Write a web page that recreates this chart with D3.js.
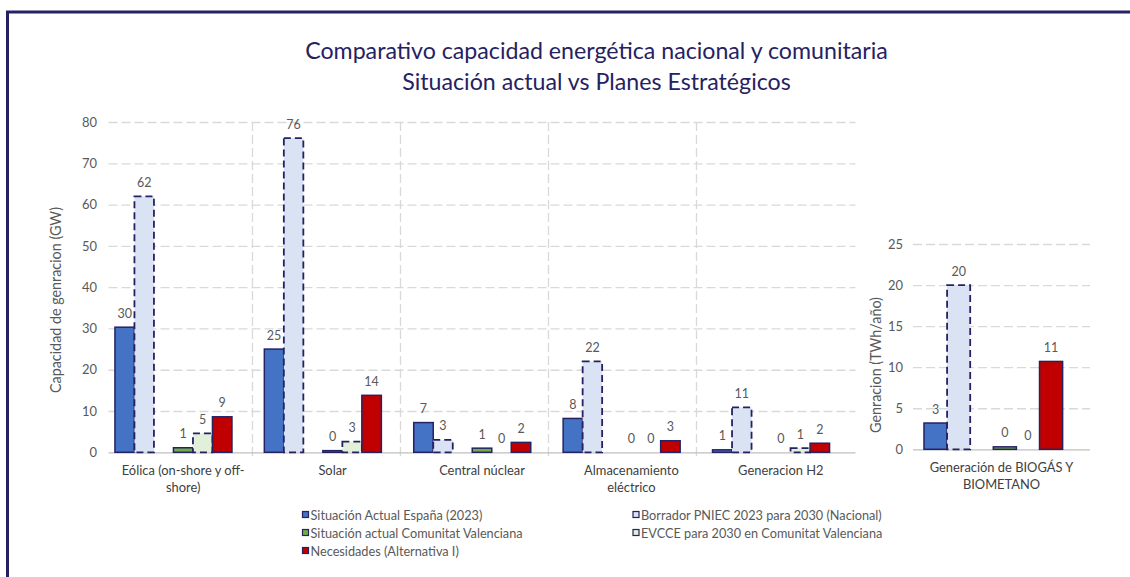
<!DOCTYPE html>
<html>
<head>
<meta charset="utf-8">
<script src="https://cdn.jsdelivr.net/npm/d3@7"></script>
<style>
html,body{margin:0;padding:0;background:#fff;}
svg{display:block;}
</style>
</head>
<body>
<svg id="chart" width="1130" height="577"></svg>
<script>
// ---------------- DATA ----------------
const titleLines = ["Comparativo capacidad energética nacional y comunitaria", "Situación actual vs Planes Estratégicos"];
const categories = ["Eólica (on-shore y off-shore)", "Solar", "Central núclear", "Almacenamiento eléctrico", "Generacion H2"];
const categoryLines = [["Eólica (on-shore y off-", "shore)"], ["Solar"], ["Central núclear"], ["Almacenamiento", "eléctrico"], ["Generacion H2"]];
const espana2023 = [30.3, 25.0, 7.2, 8.2, 0.6];
const pniec2030 = [62.0, 76.1, 3.0, 22.0, 10.9];
const cv2023 = [1.1, 0.4, 1.0, 0.0, 0.0];
const evcce2030 = [4.6, 2.6, 0.0, 0.0, 1.0];
const necesidades = [8.6, 13.8, 2.4, 2.8, 2.2];
const yTicksLeft = [0, 10, 20, 30, 40, 50, 60, 70, 80];

const bioCategories = ["Generación de BIOGÁS Y BIOMETANO"];
const bioCategoryLines = [["Generación de BIOGÁS Y", "BIOMETANO"]];
const bioEspana2023 = [3.2];
const bioPniec2030 = [20.0];
const bioCv2023 = [0.3];
const bioEvcce2030 = [0.0];
const bioNecesidades = [10.7];
const yTicksRight = [0, 5, 10, 15, 20, 25];

const seriesNames = ["Situación Actual España (2023)", "Borrador PNIEC 2023 para 2030 (Nacional)", "Situación actual Comunitat Valenciana", "EVCCE para 2030 en Comunitat Valenciana", "Necesidades (Alternativa I)"];
const slotKeys = ["s0", "s1", "gapA", "s2", "s3", "s4", "gapB"];
const seriesSlots = ["s0", "s1", "s2", "s3", "s4"];
const seriesFills = ["#4472C4", "#DAE3F3", "#70AD47", "#E2F0D9", "#C00000"];
const seriesDashed = [false, true, false, true, false];
const leftTitle = "Capacidad de genracion (GW)";
const rightTitle = "Genracion (TWh/año)";

// ---------------- DRAW ----------------
const svg = d3.select("#chart");
const FONT = "Lato, 'Open Sans', 'Noto Sans', sans-serif";
const NAVY = "#262262";
const GRID = "#d9d9d9";
const TXT = "#595959";

function fitSize(str, target) {
  const t = svg.append("text").attr("font-family", FONT).attr("font-size", 100).text(str);
  const w = t.node().getComputedTextLength();
  t.remove();
  return 100 * target / w;
}
const titleSize = fitSize(titleLines[0], 583);
const legendSize = fitSize(seriesNames[0], 172);
const xLabSize = fitSize(categoryLines[0][0], 123);
const axTitleSize = fitSize(rightTitle, 136);
const tickSize = fitSize("80", 15);
const dataSize = fitSize("62", 14.5);

svg.append("rect").attr("width", 1130).attr("height", 577).attr("fill", "#fff");
// outer border
svg.append("rect").attr("x", 7.5).attr("y", 12).attr("width", 1300).attr("height", 800)
  .attr("fill", "none").attr("stroke", NAVY).attr("stroke-width", 3);

// title
svg.append("g").selectAll("text").data(titleLines).join("text")
  .attr("x", 596.5).attr("y", (d, i) => 59 + i * 31)
  .attr("text-anchor", "middle").attr("font-family", FONT).attr("font-size", titleSize)
  .attr("fill", NAVY).text(d => d);

function buildSeries(a, b, c, d, e) {
  const vals = [a, b, c, d, e];
  return vals.map((v, si) => ({ si, vals: v }));
}

function drawPanel(opts) {
  const { cats, lines, series, y, x, ticks, gridX0, gridX1, align, tickPad } = opts;
  const slot = d3.scaleBand().domain(slotKeys).range([0, x.bandwidth()]).paddingInner(0).paddingOuter(0.33).align(align);

  // grid + ticks
  const ax = svg.append("g").attr("transform", `translate(${gridX0},0)`)
    .call(d3.axisLeft(y).tickValues(ticks).tickSize(-(gridX1 - gridX0)).tickPadding(tickPad));
  ax.select(".domain").remove();
  ax.selectAll(".tick line")
    .attr("stroke", d => d === 0 ? "#bfbfbf" : GRID)
    .attr("stroke-width", 1.3)
    .attr("stroke-dasharray", d => d === 0 ? null : "9,4");
  ax.selectAll(".tick text").attr("font-family", FONT).attr("font-size", tickSize).attr("fill", TXT);

  // bars
  series.forEach(s => {
    const g = svg.append("g");
    const data = cats.map((c, ci) => ({ c, v: s.vals[ci] }));
    g.selectAll("rect").data(data).join("rect")
      .attr("x", d => x(d.c) + slot(seriesSlots[s.si]))
      .attr("width", slot.bandwidth())
      .attr("y", d => y(d.v))
      .attr("height", d => y(0) - y(d.v))
      .attr("fill", seriesFills[s.si])
      .attr("stroke", d => d.v > 0 ? NAVY : "none")
      .attr("stroke-width", seriesDashed[s.si] ? 1.8 : 1.5)
      .attr("stroke-dasharray", seriesDashed[s.si] ? "7,4" : null);
    g.selectAll("text").data(data).join("text")
      .attr("x", d => x(d.c) + slot(seriesSlots[s.si]) + slot.bandwidth() / 2)
      .attr("y", d => y(d.v) - 9.5)
      .attr("text-anchor", "middle").attr("font-family", FONT).attr("font-size", dataSize)
      .attr("fill", TXT).text(d => d3.format(".0f")(d.v));
  });

  // x labels
  const xl = svg.append("g");
  cats.forEach((c, ci) => {
    xl.append("text")
      .attr("x", x(c) + x.bandwidth() / 2).attr("y", y(0) + 23)
      .attr("text-anchor", "middle").attr("font-family", FONT).attr("font-size", xLabSize)
      .attr("fill", "#404040")
      .selectAll("tspan").data(lines[ci]).join("tspan")
      .attr("x", x(c) + x.bandwidth() / 2).attr("dy", (d, i) => i === 0 ? 0 : 17).text(d => d);
  });
}

// left panel
const yL = d3.scaleLinear().domain([0, 80]).range([452.3, 122]);
const xL = d3.scaleBand().domain(categories).range([108.5, 855.5]);
// category separators (dashed vertical lines)
const sepX = d3.scaleLinear().domain([0, categories.length]).range([104.5, 844.5]);
svg.append("g").selectAll("line").data(d3.range(1, categories.length)).join("line")
  .attr("x1", d => sepX(d)).attr("x2", d => sepX(d))
  .attr("y1", yL(80)).attr("y2", yL(0) + 6)
  .attr("stroke", GRID).attr("stroke-width", 1.3).attr("stroke-dasharray", "9,4");

drawPanel({
  cats: categories, lines: categoryLines,
  series: buildSeries(espana2023, pniec2030, cv2023, evcce2030, necesidades),
  y: yL, x: xL, ticks: yTicksLeft, gridX0: 108.5, gridX1: 855.5, align: 0.5, tickPad: 11.5
});

// right panel
const yR = d3.scaleLinear().domain([0, 25]).range([449.3, 244]);
const xR = d3.scaleBand().domain(bioCategories).range([913, 1090]);
drawPanel({
  cats: bioCategories, lines: bioCategoryLines,
  series: buildSeries(bioEspana2023, bioPniec2030, bioCv2023, bioEvcce2030, bioNecesidades),
  y: yR, x: xR, ticks: yTicksRight, gridX0: 913, gridX1: 1090, align: 0.72, tickPad: 10
});

// axis titles
svg.append("text").attr("transform", "translate(55,300) rotate(-90)")
  .attr("text-anchor", "middle").attr("dominant-baseline", "central")
  .attr("font-family", FONT).attr("font-size", axTitleSize).attr("fill", TXT).text(leftTitle);
svg.append("text").attr("transform", "translate(875,365) rotate(-90)")
  .attr("text-anchor", "middle").attr("dominant-baseline", "central")
  .attr("font-family", FONT).attr("font-size", axTitleSize).attr("fill", TXT).text(rightTitle);

// legend
const legendPos = [[302.5, 515], [633, 515], [302.5, 533], [633, 533], [302.5, 551]];
const lg = svg.append("g").selectAll("g").data(seriesNames).join("g")
  .attr("transform", (d, i) => `translate(${legendPos[i][0]},${legendPos[i][1]})`);
lg.append("rect").attr("x", 0).attr("y", -3.5).attr("width", 6).attr("height", 6)
  .attr("fill", (d, i) => seriesFills[i]).attr("stroke", NAVY).attr("stroke-width", 1.2);
lg.append("text").attr("x", 8).attr("y", 0).attr("dominant-baseline", "central")
  .attr("font-family", FONT).attr("font-size", legendSize).attr("fill", TXT).text(d => d);
</script>
</body>
</html>
